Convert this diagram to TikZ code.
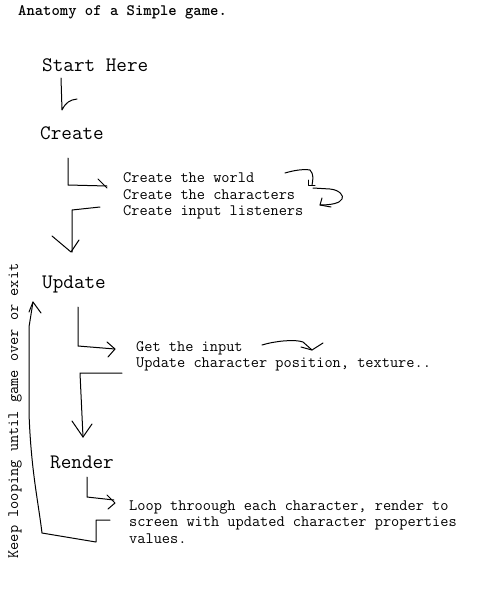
\documentclass[tikz,border=0pt]{standalone}
\usetikzlibrary{positioning}

\tikzset{
	big/.style={font=\ttfamily\fontsize{20.6}{22}\selectfont, inner sep=0pt, anchor=west},
	small/.style={font=\ttfamily\fontsize{15.9}{16.5}\selectfont, inner sep=0pt, anchor=west, align=left},
	pen/.style={line width=1pt, line join=round, line cap=round},
}

\begin{document}
\begin{tikzpicture}[x=1pt, y=-1pt]
	\useasboundingbox (0,0) rectangle (500,600);
	\node [small, font=\ttfamily\bfseries\fontsize{15.9}{16.5}\selectfont] (title) at (18,12) {Anatomy of a Simple game.};
	\node [big] (start) at (42,65) {Start Here};
	\node [big] (create) at (40,133) {Create};
	\node [small] (createlist) at (123,196) {Create the world\\Create the characters\\Create input listeners};
	\node [big] (update) at (42,284) {Update};
	\node [small] (updatelist) at (136,356.5) {Get the input\\Update character position, texture..};
	\node [big] (render) at (50,462) {Render};
	\node [small] (renderlist) at (129,522) {Loop throough each character, render to\\screen with updated character properties\\values.};
	\node [small, anchor=center, rotate=90] (loopnote) at (15,411) {Keep looping until game over or exit};
	\draw [pen] (61,78) -- (62,110) .. controls (66,102) and (70,100) .. (77,99);
	\draw [pen] (68,158) -- (68,185) -- (107,186);
	\draw [pen] (98,179) -- (107,188);
	\draw [pen] (100,207) -- (72,210) -- (72,252);
	\draw [pen] (52,236) -- (71,252) -- (79,240);
	\draw [pen] (285,173) .. controls (295,170) and (304,169) .. (310,170) .. controls (314,174) and (313,180) .. (312,185);
	\draw [pen] (308,180) -- (308,185) -- (315,185);
	\draw [pen] (313,188) -- (330,189) .. controls (340,190) and (344,196) .. (342,199) .. controls (340,203) and (332,205) .. (320,205);
	\draw [pen] (322,198) -- (320,205) -- (331,207);
	\draw [pen] (78,307) -- (78,346) -- (115,349);
	\draw [pen] (107,342) -- (115,349) -- (108,357);
	\draw [pen] (122,373) -- (80,373) -- (83,437);
	\draw [pen] (72,421) -- (83,437) -- (92,424);
	\draw [pen] (262,345) .. controls (275,341) and (295,339) .. (303,342) -- (312,350);
	\draw [pen] (301,347) -- (312,350) -- (323,343);
	\draw [pen] (87,477) -- (87,497) -- (114,500);
	\draw [pen] (107,495) -- (115,503) -- (108,509);
	\draw [pen] (110,520) -- (96,520) -- (96,542) -- (42,533) .. controls (38,500) and (31,470) .. (29,413) -- (29,327) -- (33,302);
	\draw [pen] (29,312) -- (33,302) -- (41,313);
\end{tikzpicture}
\end{document}
